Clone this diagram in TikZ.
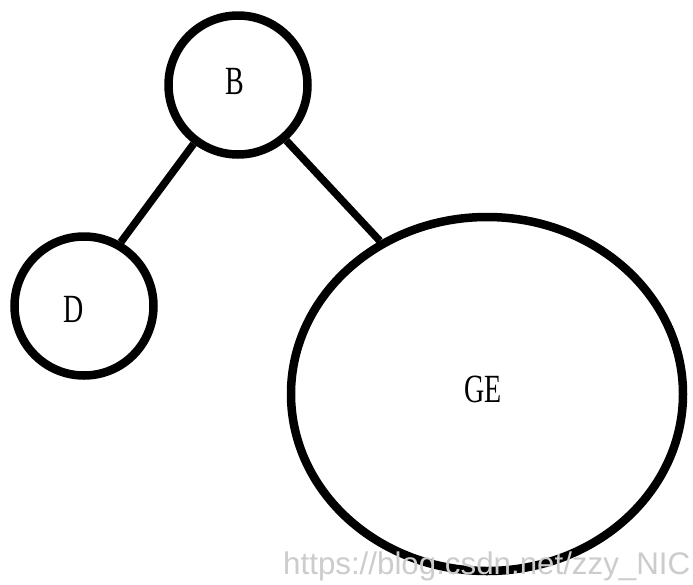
\documentclass[tikz,border=0pt]{standalone}
\usepackage{fontspec}
\usepackage{graphicx}
\setmainfont{Liberation Serif}
\newfontfamily\wmfont{Liberation Sans}
\usetikzlibrary{shapes.geometric}
\tikzset{
  vertex/.style={draw, line width=8.5pt, inner sep=0pt},
  edge/.style={line width=7.5pt},
  lbl/.style={inner sep=0pt, font=\fontsize{40}{40}\selectfont}
}
\begin{document}
\begin{tikzpicture}[x=1pt,y=-1pt]
  \useasboundingbox[fill=white] (0,0) rectangle (693,584);
  \node[vertex, circle, minimum size=139pt,
        label={[lbl, xshift=-3pt, yshift=4pt]center:\scalebox{0.7}[1]{B}}] (B) at (238,85) {};
  \node[vertex, circle, minimum size=139pt,
        label={[lbl, xshift=-10pt, yshift=-3pt]center:\scalebox{0.7}[1]{D}}] (D) at (84,306) {};
  \node[vertex, ellipse, minimum width=392pt, minimum height=354pt,
        label={[lbl, xshift=-4pt, yshift=5pt]center:\scalebox{0.7}[1]{GE}}] (GE) at (487,394) {};
  \draw[edge] (B.233) -- (D.60);
  \draw[edge] (B.311) -- (GE.125);
  \node[anchor=base west, inner sep=0pt, text=black!20] (wm) at (283,574)
    {\resizebox{407pt}{!}{\wmfont https://blog.csdn.net/zzy\_NIC}};
\end{tikzpicture}
\end{document}
